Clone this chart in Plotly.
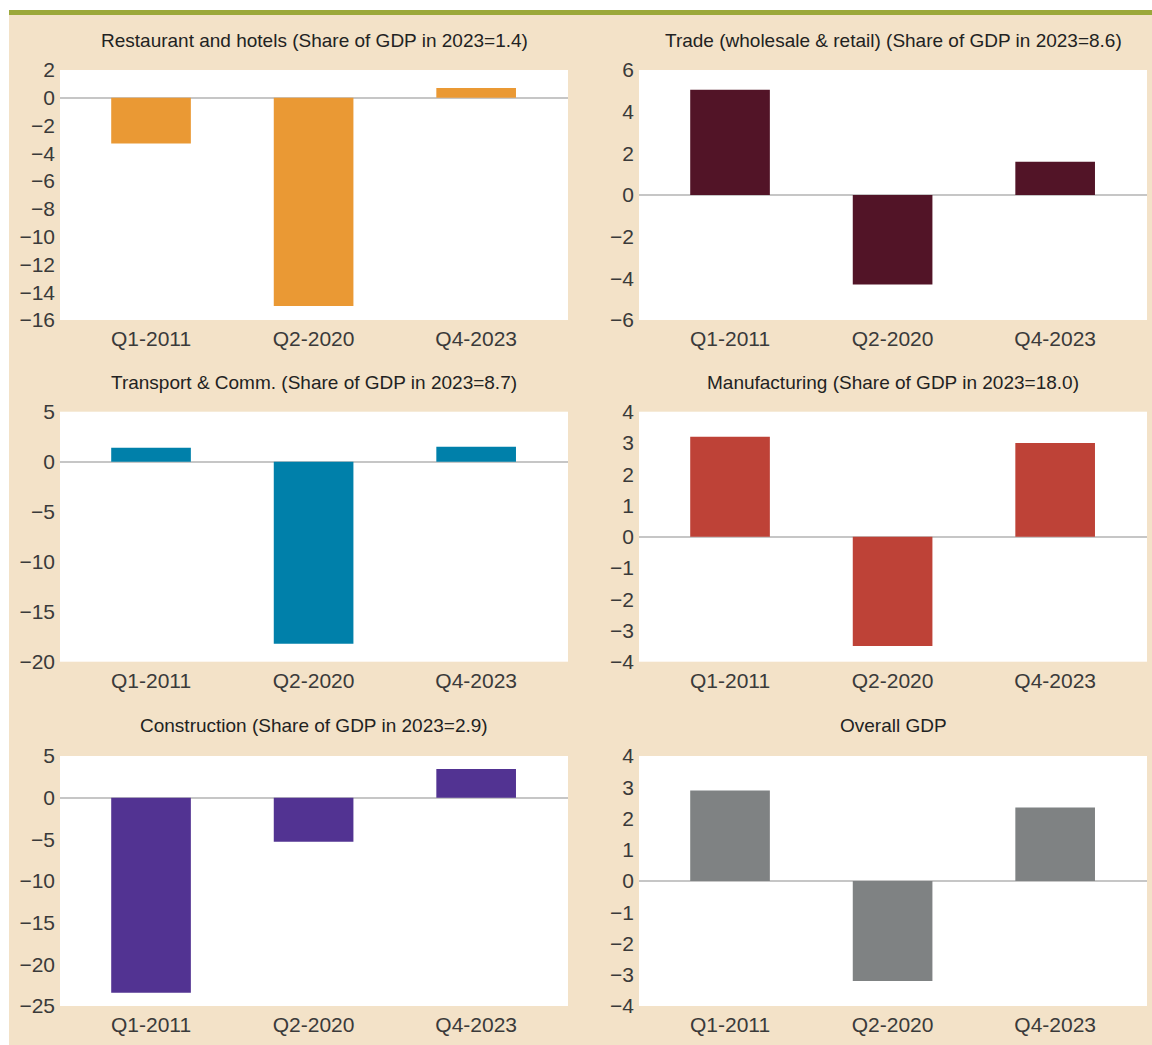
import plotly.graph_objects as go

categories = ["Q1-2011", "Q2-2020", "Q4-2023"]

restaurant = [-3.3, -15.0, 0.7]
trade = [5.05, -4.3, 1.6]
transport = [1.4, -18.2, 1.5]
manufacturing = [3.2, -3.5, 3.0]
construction = [-23.4, -5.3, 3.45]
overall = [2.9, -3.2, 2.35]

titles = [
    "Restaurant and hotels (Share of GDP in 2023=1.4)",
    "Trade (wholesale & retail) (Share of GDP in 2023=8.6)",
    "Transport & Comm. (Share of GDP in 2023=8.7)",
    "Manufacturing (Share of GDP in 2023=18.0)",
    "Construction (Share of GDP in 2023=2.9)",
    "Overall GDP",
]
series = [restaurant, trade, transport, manufacturing, construction, overall]
colors = ["#EA9934", "#521427", "#0080AA", "#BE4237", "#523392", "#7F8283"]
yranges = [(-16, 2), (-6, 6), (-20, 5), (-4, 4), (-25, 5), (-4, 4)]
ydticks = [2, 2, 5, 1, 5, 1]

W, H = 1152, 1045
xdom_px = [(60, 568), (639, 1147)]
ydom_px = [(70, 320), (411.7, 661.7), (756, 1006)]
title_y_px = [41, 382, 725]

BEIGE = "#F3E2C8"
TICKFONT = "Liberation Sans Narrow, Arial Narrow, Liberation Sans, Arial, sans-serif"
TITLEFONT = "Liberation Sans, Arial, sans-serif"

fig = go.Figure()
layout = dict(
    template="none",
    width=W, height=H, autosize=False,
    margin=dict(l=0, r=0, t=0, b=0, pad=0),
    paper_bgcolor=BEIGE,
    plot_bgcolor="white",
    showlegend=False,
)
annotations = []
for i in range(6):
    r, c = divmod(i, 2)
    n = i + 1
    xa = "x" if n == 1 else f"x{n}"
    ya = "y" if n == 1 else f"y{n}"
    fig.add_trace(go.Bar(
        x=categories, y=series[i], marker_color=colors[i], marker_line_width=0,
        width=0.49, xaxis=xa, yaxis=ya, hoverinfo="x+y",
    ))
    x0, x1 = xdom_px[c]
    y0, y1 = ydom_px[r]
    layout["xaxis" if n == 1 else f"xaxis{n}"] = dict(
        domain=[x0 / W, x1 / W], anchor=ya, range=[-0.56, 2.565],
        showgrid=False, zeroline=False, showline=False, ticks="",
        automargin=False,
        tickfont=dict(family=TICKFONT, size=21, color="#3A3A3A"),
        ticklabelstandoff=4, fixedrange=True,
    )
    layout["yaxis" if n == 1 else f"yaxis{n}"] = dict(
        domain=[1 - y1 / H, 1 - y0 / H], anchor=xa, range=list(yranges[i]),
        dtick=ydticks[i], tick0=0, showgrid=False, zeroline=True,
        zerolinecolor="#C6C6C6", zerolinewidth=1.5, showline=False, ticks="",
        automargin=False,
        tickfont=dict(family=TICKFONT, size=21, color="#3A3A3A"),
        ticklabelstandoff=4, fixedrange=True,
    )
    annotations.append(dict(
        text=titles[i], xref="paper", yref="paper",
        x=(x0 + x1) / 2 / W, y=1 - title_y_px[r] / H,
        xanchor="center", yanchor="middle", showarrow=False,
        font=dict(family=TITLEFONT, size=19, color="#222222"),
    ))

layout["annotations"] = annotations
layout["shapes"] = [
    dict(type="rect", xref="paper", yref="paper", x0=0, x1=9 / W, y0=0, y1=1,
         fillcolor="white", line_width=0, layer="below"),
    dict(type="rect", xref="paper", yref="paper", x0=0, x1=1, y0=1 - 10 / H, y1=1,
         fillcolor="white", line_width=0, layer="below"),
    dict(type="rect", xref="paper", yref="paper", x0=9 / W, x1=1, y0=1 - 15 / H, y1=1 - 10 / H,
         fillcolor="#9BA83A", line_width=0, layer="below"),
]
fig.update_layout(**layout)
fig.write_html("out.html")
